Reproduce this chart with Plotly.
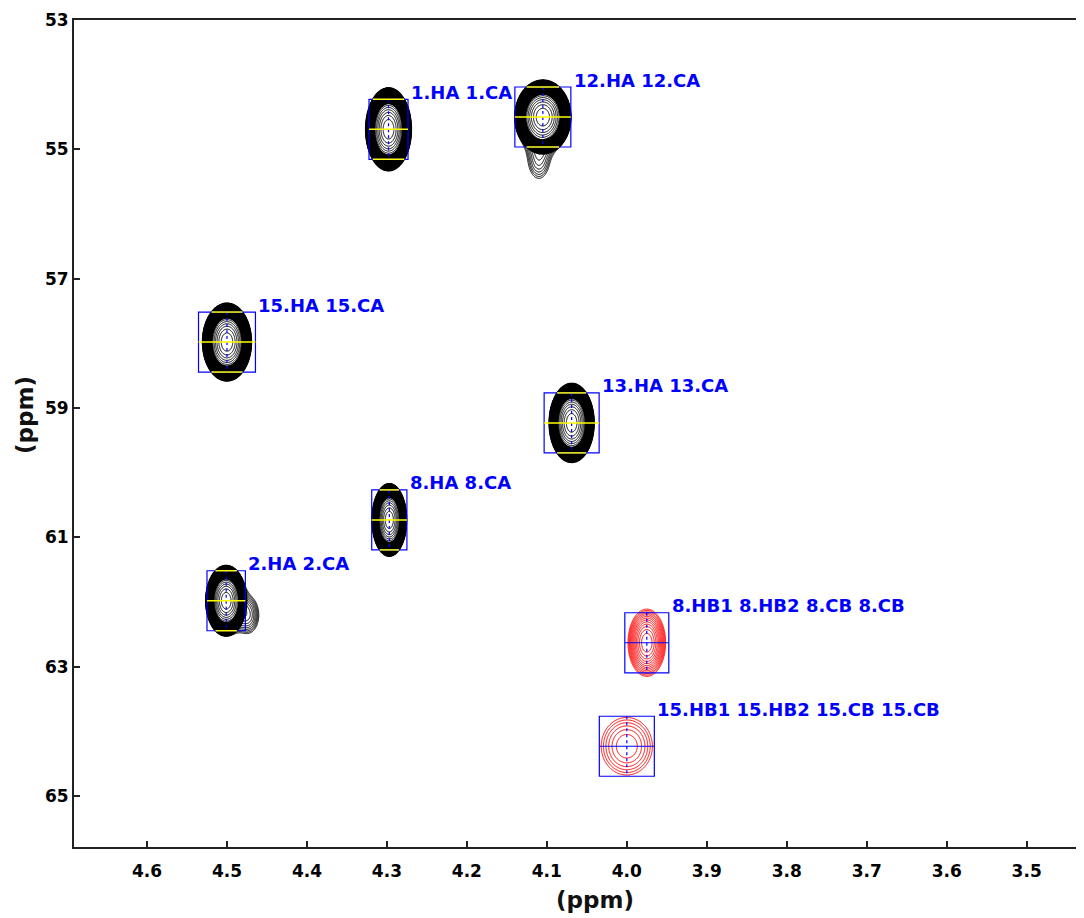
import numpy as np
import plotly.graph_objects as go

# ---------------- data ----------------
peak_labels = ["1.HA 1.CA", "12.HA 12.CA", "15.HA 15.CA", "13.HA 13.CA",
               "8.HA 8.CA", "2.HA 2.CA",
               "8.HB1 8.HB2 8.CB 8.CB", "15.HB1 15.HB2 15.CB 15.CB"]
peak_h = [4.298, 4.105, 4.500, 4.069, 4.297, 4.501, 3.975, 4.000]      # 1H ppm
peak_c = [54.69, 54.50, 57.98, 59.23, 60.73, 61.98, 62.63, 64.23]      # 13C ppm
peak_extent_h = [0.0285, 0.0350, 0.0305, 0.0280, 0.0215, 0.0255, 0.0235, 0.0320]
peak_extent_c = [0.640, 0.570, 0.600, 0.610, 0.560, 0.545, 0.520, 0.445]
peak_group = ["HA", "HA", "HA", "HA", "HA", "HA", "HB", "HB"]
peak_levels = [18, 18, 18, 18, 18, 18, 13, 6]

box_half_h = [0.0244, 0.0350, 0.0356, 0.0344, 0.0220, 0.0240, 0.0275, 0.0344]
box_half_c = 0.464

shoulder_parent = [1, 5]
shoulder_h = [4.110, 4.474]
shoulder_c = [55.15, 62.20]
shoulder_extent_h = [0.024, 0.022]
shoulder_extent_c = [0.55, 0.45]
shoulder_amp = [0.12, 0.16]

x_ticks = [4.6, 4.5, 4.4, 4.3, 4.2, 4.1, 4.0, 3.9, 3.8, 3.7, 3.6, 3.5]
y_ticks = [53, 55, 57, 59, 61, 63, 65]
x_range = [4.6913, 3.4283]
y_range = [65.788, 53.0]

# ---------------- styles ----------------
group_color = {"HA": "#000000", "HB": "#FF0000"}
BLUE = "#0000FF"
YELLOW = "#FFFF00"
L = 3.0
RING_INNER = 0.38   # fraction of L where the dense outer ring of black peaks stops


def grid_for(comps):
    xmin = min(h - 1.3 * eh for h, c, eh, ec, a in comps)
    xmax = max(h + 1.3 * eh for h, c, eh, ec, a in comps)
    ymin = min(c - 1.3 * ec for h, c, eh, ec, a in comps)
    ymax = max(c + 1.3 * ec for h, c, eh, ec, a in comps)
    xs = np.arange(xmin, xmax, 0.0008)
    ys = np.arange(ymin, ymax, 0.008)
    X, Y = np.meshgrid(xs, ys)
    inten = np.zeros_like(X)
    for h, c, eh, ec, a in comps:
        inten += a * np.exp(-L * (((X - h) / eh) ** 2 + ((Y - c) / ec) ** 2))
    return np.round(xs, 5), np.round(ys, 4), np.round(np.log(inten + 1e-12), 4)


fig = go.Figure()

for i in range(len(peak_labels)):
    main = (peak_h[i], peak_c[i], peak_extent_h[i], peak_extent_c[i], 1.0)
    comps = [main]
    for j, p in enumerate(shoulder_parent):
        if p == i:
            comps.append((shoulder_h[j], shoulder_c[j], shoulder_extent_h[j],
                          shoulder_extent_c[j], shoulder_amp[j]))
    N = peak_levels[i]
    col = group_color[peak_group[i]]
    xs, ys, Z = grid_for(comps)
    fig.add_trace(go.Contour(
        x=xs, y=ys, z=Z, autocontour=False,
        contours=dict(start=-L, end=-L / N * 0.5, size=L / N, coloring="lines"),
        colorscale=[[0, col], [1, col]], showscale=False,
        line=dict(width=1.0), hoverinfo="skip", showlegend=False))
    if peak_group[i] == "HA":
        xs2, ys2, Z2 = grid_for([main])
        fig.add_trace(go.Contour(
            x=xs2, y=ys2, z=Z2, autocontour=False,
            contours=dict(start=-L, end=-L * RING_INNER, size=L / N / 2, coloring="lines"),
            colorscale=[[0, col], [1, col]], showscale=False,
            line=dict(width=1.6), hoverinfo="skip", showlegend=False))

shapes = []
annotations = []
for i in range(len(peak_labels)):
    h, c, bw = peak_h[i], peak_c[i], box_half_h[i]
    x0, x1 = h + bw, h - bw
    y0, y1 = c - box_half_c, c + box_half_c
    shapes.append(dict(type="rect", xref="x", yref="y", x0=x0, x1=x1, y0=y0, y1=y1,
                       line=dict(color=BLUE, width=1.2)))
    shapes.append(dict(type="line", xref="x", yref="y", x0=h, x1=h, y0=y0, y1=y1,
                       line=dict(color=BLUE, width=1.2, dash="dot")))
    if peak_group[i] == "HA":
        shapes.append(dict(type="line", xref="x", yref="y", x0=x0, x1=x1, y0=c, y1=c,
                           line=dict(color=YELLOW, width=1.5)))
        frac = box_half_c / peak_extent_c[i]
        chord = peak_extent_h[i] * np.sqrt(max(0.0, 1 - frac ** 2))
        chord = min(chord, bw)
        for yy in (y0, y1):
            shapes.append(dict(type="line", xref="x", yref="y", x0=h + chord, x1=h - chord,
                               y0=yy, y1=yy, line=dict(color=YELLOW, width=1.5)))
    else:
        shapes.append(dict(type="line", xref="x", yref="y", x0=x0, x1=x1, y0=c, y1=c,
                           line=dict(color=BLUE, width=1.2)))
    annotations.append(dict(x=x1, y=y0, xref="x", yref="y", text=peak_labels[i],
                            showarrow=False, xanchor="left", yanchor="middle",
                            xshift=1, yshift=7,
                            font=dict(family="DejaVu Sans", size=18, color=BLUE,
                                      weight="bold")))

# page body has an 8px default margin: figure is 1076x910, plot area 1010x827
PLOT_W, PLOT_H = 1010, 827
title_font = dict(family="DejaVu Sans", size=23, color="#111111", weight="bold")
annotations.append(dict(x=(595 - 74) / PLOT_W, y=(847 - 900) / PLOT_H,
                        xref="paper", yref="paper",
                        text="(ppm)", showarrow=False, xanchor="center", yanchor="middle",
                        font=title_font))
annotations.append(dict(x=(25 - 74) / PLOT_W, y=(847 - 415) / PLOT_H,
                        xref="paper", yref="paper",
                        text="(ppm)", showarrow=False, xanchor="center", yanchor="middle",
                        textangle=-90, font=title_font))

tick_font = dict(family="DejaVu Sans", size=17, color="#000000", weight="bold")
fig.update_layout(
    width=1076, height=910,
    margin=dict(l=66, r=0, t=12, b=71, autoexpand=False),
    paper_bgcolor="white", plot_bgcolor="white",
    shapes=shapes, annotations=annotations,
    xaxis=dict(range=x_range, tickvals=x_ticks, ticktext=[f"{v:.1f}" for v in x_ticks],
               ticks="inside", ticklen=6, tickwidth=1.5, tickcolor="#222222",
               showline=True, linecolor="#222222", linewidth=2, mirror=True,
               showgrid=False, zeroline=False, tickfont=tick_font, ticklabelstandoff=8),
    yaxis=dict(range=y_range, tickvals=y_ticks, ticktext=[str(v) for v in y_ticks],
               ticks="inside", ticklen=6, tickwidth=1.5, tickcolor="#222222",
               showline=True, linecolor="#222222", linewidth=2, mirror=False,
               showgrid=False, zeroline=False, tickfont=tick_font, ticklabelstandoff=0),
)

fig.write_html("out.html")
